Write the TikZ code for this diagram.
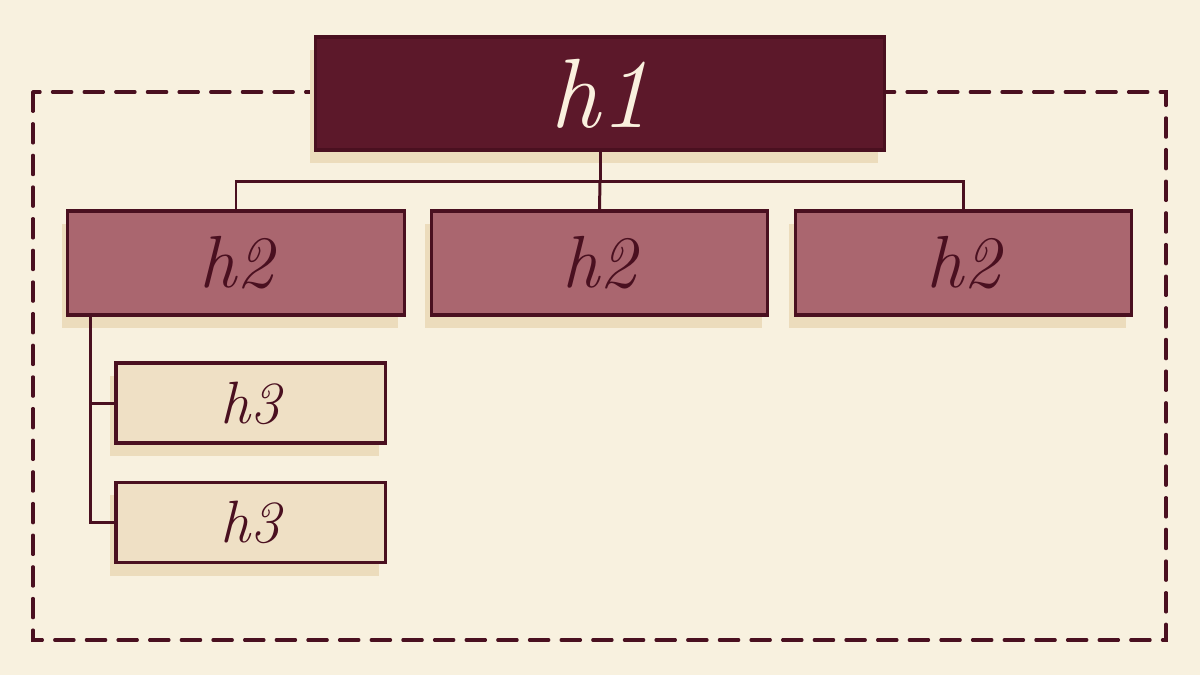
\documentclass[tikz,border=0pt]{standalone}
\usepackage{tikz}
\usetikzlibrary{shadows}
\definecolor{paper}{RGB}{248,241,223}
\definecolor{ink}{RGB}{74,16,32}
\definecolor{wine}{RGB}{92,24,42}
\definecolor{rose}{RGB}{170,102,111}
\definecolor{sand}{RGB}{239,224,197}
\definecolor{tan}{RGB}{236,220,188}
\definecolor{cream}{RGB}{250,240,222}
\tikzset{
    common/.style={draw=ink, line width=0.9pt, rectangle, inner sep=0pt,
        general shadow={fill=tan, shadow xshift=-0.6mm, shadow yshift=-1.3mm}},
    top/.style={common, fill=wine, text=cream, minimum width=5.68cm, minimum height=1.13cm,
        font=\fontsize{28}{30}\selectfont\itshape},
    sub/.style={common, fill=rose, text=ink, minimum width=3.36cm, minimum height=1.04cm,
        font=\fontsize{21}{22}\selectfont\itshape},
    leaf/.style={common, fill=sand, text=ink, minimum width=2.69cm, minimum height=0.8cm,
        font=\fontsize{17}{18}\selectfont\itshape},
    link/.style={draw=ink, line width=0.85pt},
    frame/.style={draw=ink, line width=0.9pt, dash pattern=on 5.5pt off 3.5pt, line cap=round}
}
\begin{document}
\begin{tikzpicture}[x=0.01cm, y=-0.01cm]
    \fill[paper] (0,0) rectangle (1200,675);
    \useasboundingbox (0,0) rectangle (1200,675);

    \draw[frame] (33,92) rectangle (1166,640);

    \node[top] (h1) at (600,93.5) {h1};

    \node[sub] (h2a) at (236,263) {h2};
    \node[sub] (h2b) at (599.5,263) {h2};
    \node[sub] (h2c) at (963.5,263) {h2};

    \node[leaf] (h3a) at (250.5,403) {h3};
    \node[leaf] (h3b) at (250.5,522.5) {h3};

    \coordinate (bus) at (600,181);
    \coordinate (spine) at ([xshift=0.24cm]h2a.south west);

    \draw[link] (h1.south) -- (bus);
    \draw[link] (h2a.north) |- (bus) -| (h2c.north);
    \draw[link] (bus) -- (h2b.north);

    \draw[link] (spine) |- (h3b.west);
    \draw[link] (h3a.west) -- (h3a.west -| spine);
\end{tikzpicture}
\end{document}
